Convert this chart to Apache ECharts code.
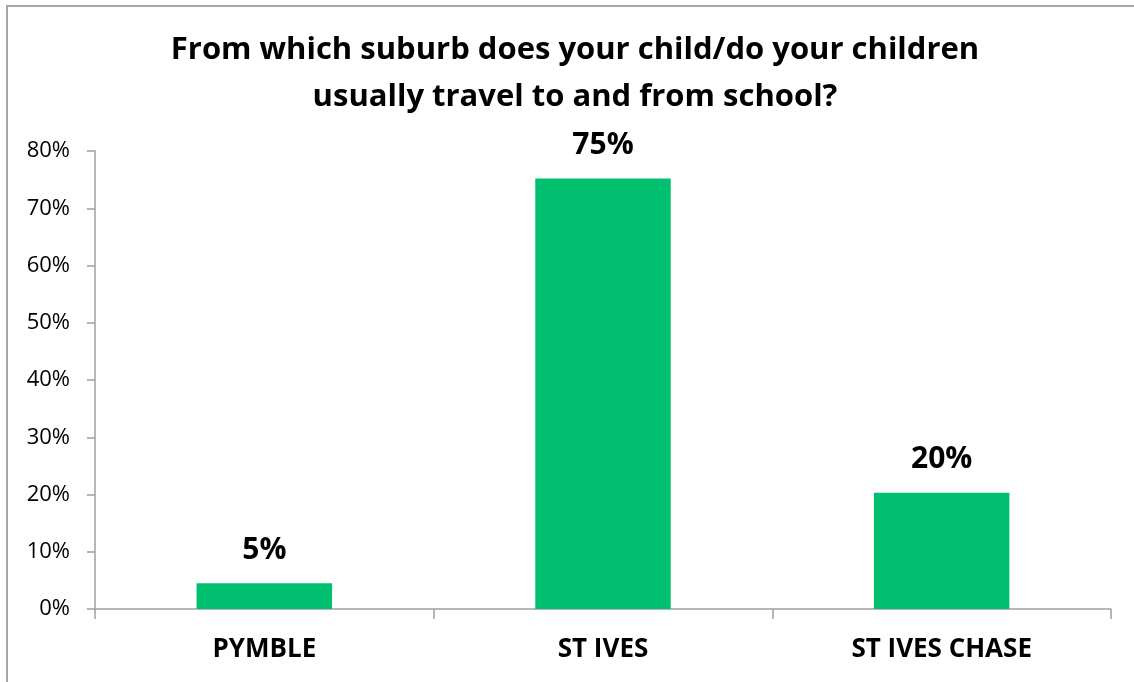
<!DOCTYPE html>
<html>
<head>
<meta charset="utf-8">
<script src="https://cdn.jsdelivr.net/npm/echarts@6/dist/echarts.min.js"></script>
<style>
    html, body { margin: 0; padding: 0; background: #fff; }
    .frame {
        position: absolute;
        left: 6px;
        top: 5px;
        width: 1200px;
        height: 700px;
        border-left: 2px solid #a6a6a6;
        border-top: 2px solid #a6a6a6;
    }
    #suburbChart {
        position: absolute;
        left: 0;
        top: 0;
        width: 1134px;
        height: 682px;
    }
</style>
</head>
<body>
<div class="frame"></div>
<div id="suburbChart"></div>
<script>
const categories = ["PYMBLE", "ST IVES", "ST IVES CHASE"];
const shares = [4.5, 75.2, 20.3];
const titleText = "From which suburb does your child/do your children\nusually travel to and from school?";

const chartOption = {
    animation: false,
    title: {
        text: titleText,
        left: 570,
        top: 22,
        textAlign: "center",
        textStyle: {
            fontFamily: "Open Sans",
            fontSize: 31,
            fontWeight: "bold",
            color: "#000",
            lineHeight: 47,
        },
    },
    grid: {
        left: 95,
        right: 23,
        top: 151,
        bottom: 73,
    },
    xAxis: {
        type: "category",
        data: categories,
        axisLine: { lineStyle: { color: "#a0a0a0", width: 1.5 } },
        axisTick: { show: true, length: 10, lineStyle: { color: "#a0a0a0", width: 1.5 } },
        axisLabel: {
            margin: 28,
            fontFamily: "Open Sans",
            fontSize: 26,
            fontWeight: "bold",
            color: "#000",
        },
    },
    yAxis: {
        type: "value",
        min: 0,
        max: 80,
        interval: 10,
        axisLine: { show: true, lineStyle: { color: "#a0a0a0", width: 1.5 } },
        axisTick: { show: true, length: 8, lineStyle: { color: "#a0a0a0", width: 1.5 } },
        splitLine: { show: false },
        axisLabel: {
            margin: 25,
            formatter: "{value}%",
            fontFamily: "Open Sans",
            fontSize: 22,
            color: "#000",
        },
    },
    series: [
        {
            type: "bar",
            data: shares,
            barWidth: "40%",
            itemStyle: { color: "#00bf6f" },
            label: {
                show: true,
                position: "top",
                distance: 18,
                formatter: (p) => Math.round(p.value) + "%",
                fontFamily: "Open Sans",
                fontSize: 30,
                fontWeight: "bold",
                color: "#000",
            },
        },
    ],
};

const myChart = echarts.init(document.getElementById("suburbChart"));
myChart.setOption(chartOption);
</script>
</body>
</html>
